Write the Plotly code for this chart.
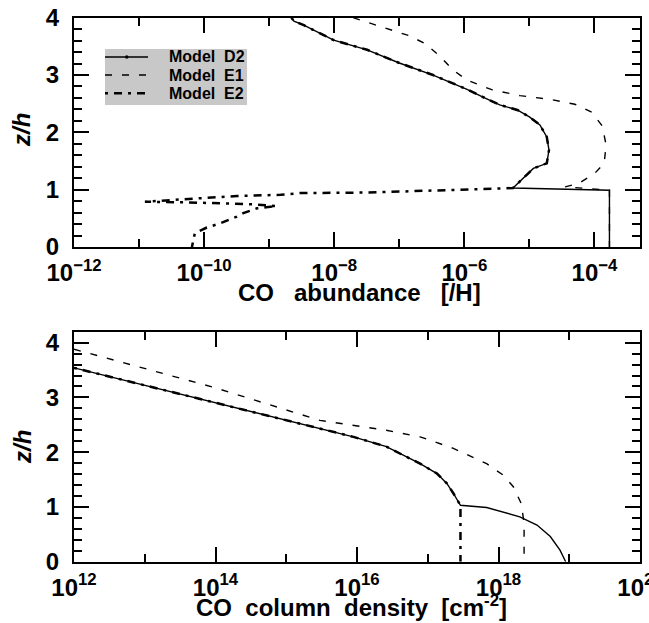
import plotly.graph_objects as go

# ---- CO abundance profiles (abundance relative to H vs z/h) ----
# Model D2 (solid)
d2_abund = [2.2e-9, 2.4e-9, 3.4e-9, 9.8e-9, 3.2e-8, 1.0e-7, 3.3e-7, 1.1e-6, 1.9e-6, 3.5e-6,
            6.5e-6, 1.0e-5, 1.45e-5, 1.85e-5, 2.0e-5, 1.85e-5, 1.15e-5, 5.6e-6,
            1.7e-4, 1.7e-4]
d2_z = [4.00, 3.94, 3.87, 3.61, 3.44, 3.21, 3.00, 2.75, 2.62, 2.48,
        2.39, 2.27, 2.13, 1.92, 1.69, 1.46, 1.37, 1.03,
        0.99, 0.00]

# Model E1 (dashed)
e1_abund = [1.95e-8, 1.38e-7, 2.5e-7, 4.3e-7, 6.5e-7, 1.1e-6, 2.7e-6, 7.2e-6, 2.2e-5, 5.0e-5,
            9.1e-5, 1.32e-4, 1.51e-4, 1.41e-4, 1.0e-4, 5.75e-5, 3.55e-5, 1.7e-4, 1.7e-4]
e1_z = [4.00, 3.69, 3.55, 3.32, 3.10, 2.91, 2.74, 2.64, 2.57, 2.49,
        2.35, 2.11, 1.78, 1.46, 1.28, 1.11, 1.05, 0.99, 0.00]

# Model E2 (dash-dot): follows D2 above z/h ~ 1, then this lower branch
e2_low_abund = [3.5e-6, 3.3e-7, 3.2e-8, 2.95e-9, 1.5e-9, 3.2e-10, 8.7e-11, 3.0e-11, 1.23e-11,
                4.8e-11, 2.2e-10, 5.6e-10, 1.3e-9, 6.5e-10, 4.0e-10, 3.2e-10, 1.74e-10,
                1.1e-10, 7.2e-11, 6.8e-11, 6.5e-11]
e2_low_z = [1.02, 0.98, 0.95, 0.94, 0.91, 0.89, 0.85, 0.82, 0.79,
            0.78, 0.76, 0.745, 0.715, 0.675, 0.59, 0.53, 0.41,
            0.34, 0.24, 0.065, 0.00]

# ---- CO column density profiles (cm^-2 vs z/h) ----
d2_col = [1.0e12, 9.1e13, 3.0e15, 8.9e15, 2.6e16, 7.8e16, 1.35e17, 1.86e17, 2.3e17, 2.7e17,
          2.9e17, 6.8e17, 1.17e18, 2.0e18, 3.5e18, 5.4e18, 7.4e18, 8.7e18, 8.9e18]
d2_col_z = [3.54, 2.92, 2.43, 2.28, 2.10, 1.79, 1.61, 1.43, 1.25, 1.09,
            1.03, 0.99, 0.91, 0.82, 0.67, 0.46, 0.21, 0.03, 0.00]

e1_col = [1.0e12, 9.1e13, 3.0e15, 8.9e15, 2.6e16, 7.8e16, 2.3e17, 6.8e17, 1.17e18, 1.62e18,
          2.1e18, 2.3e18, 2.3e18]
e1_col_z = [3.88, 3.19, 2.58, 2.49, 2.40, 2.28, 2.07, 1.79, 1.58, 1.37,
            1.06, 0.70, 0.00]

# E2 column: same as D2 above z/h ~ 1, constant below
e2_col_low = [2.9e17]
e2_col_low_z = [0.00]

# ---- axis ticks ----
top_major = [1e-12, 1e-10, 1e-8, 1e-6, 1e-4]
top_major_text = ["10<sup>\u221212</sup>", "10<sup>\u221210</sup>", "10<sup>\u22128</sup>",
                  "10<sup>\u22126</sup>", "10<sup>\u22124</sup>"]
top_minor = [1e-11, 1e-9, 1e-7, 1e-5]
bot_major = [1e12, 1e14, 1e16, 1e18, 1e20]
bot_major_text = ["10<sup>12</sup>", "10<sup>14</sup>", "10<sup>16</sup>",
                  "10<sup>18</sup>", "10<sup>20</sup>"]
bot_minor = [1e13, 1e15, 1e17, 1e19]
z_major = [0, 1, 2, 3, 4]

legend_names = ["Model\u00a0 D2", "Model\u00a0 E1", "Model\u00a0 E2"]

W, H = 649, 623
FONT = "Liberation Sans"


def px(x):
    return x / W


def py(y):
    return 1 - y / H


# the E2 curves share the upper (z/h > 1) branch with D2
n_up = d2_z.index(1.03) + 1
e2_abund = d2_abund[:n_up] + e2_low_abund
e2_z = d2_z[:n_up] + e2_low_z
n_up_col = d2_col_z.index(1.03) + 1
e2_col = d2_col[:n_up_col] + e2_col_low
e2_col_z = d2_col_z[:n_up_col] + e2_col_low_z

SOLID = dict(color="black", width=1.4)
DASHED = dict(color="black", width=1.4, dash="7px,10px")
DASHDOT = dict(color="black", width=2.5, dash="3px,6px,8px,6px")

fig = go.Figure()
fig.add_trace(go.Scatter(x=d2_abund, y=d2_z, mode="lines", line=SOLID, name="Model D2",
                         xaxis="x", yaxis="y"))
fig.add_trace(go.Scatter(x=e1_abund, y=e1_z, mode="lines", line=DASHED, name="Model E1",
                         xaxis="x", yaxis="y"))
fig.add_trace(go.Scatter(x=e2_abund, y=e2_z, mode="lines", line=DASHDOT, name="Model E2",
                         xaxis="x", yaxis="y"))
fig.add_trace(go.Scatter(x=d2_col, y=d2_col_z, mode="lines", line=SOLID, name="Model D2",
                         xaxis="x2", yaxis="y2"))
fig.add_trace(go.Scatter(x=e1_col, y=e1_col_z, mode="lines", line=DASHED, name="Model E1",
                         xaxis="x2", yaxis="y2"))
fig.add_trace(go.Scatter(x=e2_col, y=e2_col_z, mode="lines", line=DASHDOT, name="Model E2",
                         xaxis="x2", yaxis="y2"))

tickfont = dict(family=FONT, size=24, color="black", weight="bold")
common = dict(showline=True, linewidth=2, linecolor="black", mirror="allticks",
              ticks="inside", ticklen=15, tickwidth=1.5, tickcolor="black",
              showgrid=False, zeroline=False, tickfont=tickfont, automargin=False,
              ticklabeloverflow="allow")

x_dom = [px(74), px(640)]
fig.update_layout(
    width=W, height=H,
    margin=dict(l=0, r=0, t=0, b=0),
    paper_bgcolor="white", plot_bgcolor="white",
    showlegend=False,
    xaxis=dict(type="log", range=[-12, -3.3], domain=x_dom, anchor="y",
               tickmode="array", tickvals=top_major, ticktext=top_major_text,
               minor=dict(ticks="inside", ticklen=8, tickwidth=1.5, tickcolor="black",
                          tickmode="array", tickvals=top_minor),
               ticklabelstandoff=3, **common),
    yaxis=dict(range=[0, 4], domain=[py(247), py(17.7)], anchor="x",
               tickmode="array", tickvals=z_major,
               minor=dict(ticks="inside", ticklen=8, tickwidth=1.5, tickcolor="black",
                          dtick=0.2, tick0=0),
               ticklabelstandoff=8, **common),
    xaxis2=dict(type="log", range=[12, 20], domain=x_dom, anchor="y2",
                tickmode="array", tickvals=bot_major, ticktext=bot_major_text,
                minor=dict(ticks="inside", ticklen=8, tickwidth=1.5, tickcolor="black",
                           tickmode="array", tickvals=bot_minor),
                ticklabelstandoff=3, **common),
    yaxis2=dict(range=[0, 4.2], domain=[py(561.7), py(331.7)], anchor="x2",
                tickmode="array", tickvals=z_major,
                minor=dict(ticks="inside", ticklen=8, tickwidth=1.5, tickcolor="black",
                           dtick=0.2, tick0=0),
                ticklabelstandoff=8, **common),
)

title_font = dict(family=FONT, size=24, color="black", weight="bold")
annotations = [
    dict(text="CO\u00a0\u00a0 abundance\u00a0\u00a0 [/H]", x=px(359), y=py(293), xref="paper",
         yref="paper", xanchor="center", yanchor="middle", showarrow=False, font=title_font),
    dict(text="CO\u00a0 column\u00a0 density\u00a0 [cm<sup>-2</sup>]", x=px(351), y=py(606),
         xref="paper", yref="paper", xanchor="center", yanchor="middle", showarrow=False,
         font=title_font),
    dict(text="<i>z/h</i>", x=px(21), y=py(130), xref="paper", yref="paper", textangle=-90,
         xanchor="center", yanchor="middle", showarrow=False, font=title_font),
    dict(text="<i>z/h</i>", x=px(22), y=py(447), xref="paper", yref="paper", textangle=-90,
         xanchor="center", yanchor="middle", showarrow=False, font=title_font),
]

# key box in the upper panel
shapes = [dict(type="rect", xref="paper", yref="paper", x0=px(105), x1=px(247),
               y0=py(105), y1=py(49), fillcolor="#c8c8c8", line=dict(width=0), layer="above")]
row_y = [57, 75, 93.3]
row_styles = [SOLID, DASHED, DASHDOT]
for name, yy, st in zip(legend_names, row_y, row_styles):
    shapes.append(dict(type="line", xref="paper", yref="paper", x0=px(105), x1=px(148),
                       y0=py(yy), y1=py(yy), line=st, layer="above"))
    annotations.append(dict(text=name, x=px(167), y=py(yy), xref="paper", yref="paper",
                            xanchor="left", yanchor="middle", showarrow=False,
                            font=dict(family=FONT, size=16, color="black", weight="bold")))
shapes.append(dict(type="circle", xref="paper", yref="paper", x0=px(125), x1=px(128.5),
                   y0=py(row_y[0] + 1.75), y1=py(row_y[0] - 1.75), fillcolor="black",
                   line=dict(width=0), layer="above"))

fig.update_layout(annotations=annotations, shapes=shapes)
fig.write_html("out.html")
